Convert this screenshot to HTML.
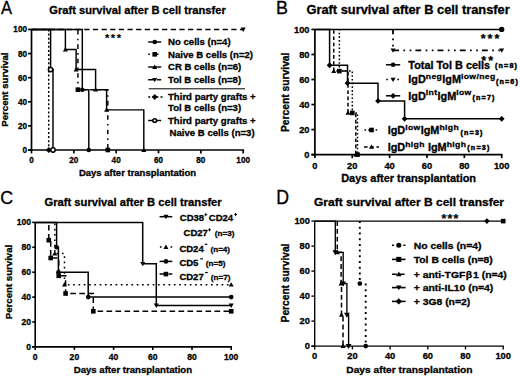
<!DOCTYPE html><html><head><meta charset="utf-8"><style>html,body{margin:0;padding:0;background:#fff;}svg{display:block;}text{font-family:"Liberation Sans", sans-serif;fill:#000;stroke:#000;stroke-width:0.3px;}</style></head><body>
<svg width="520" height="376" viewBox="0 0 520 376">
<rect width="520" height="376" fill="#fff"/>
<text transform="translate(0.90 13.60) scale(0.92 1)" font-size="18.0" font-weight="normal">A</text>
<text x="137.50" y="14.30" font-size="11.15" font-weight="bold" text-anchor="middle" >Graft survival after B cell transfer</text>
<text transform="translate(27.00 153.00) scale(0.93 1)" font-size="8.817" font-weight="bold" text-anchor="end" >0</text>
<text transform="translate(31.50 162.60) scale(0.93 1)" font-size="8.817" font-weight="bold" text-anchor="middle" >0</text>
<text transform="translate(27.00 128.89) scale(0.93 1)" font-size="8.817" font-weight="bold" text-anchor="end" >20</text>
<text transform="translate(73.84 162.60) scale(0.93 1)" font-size="8.817" font-weight="bold" text-anchor="middle" >20</text>
<text transform="translate(27.00 104.78) scale(0.93 1)" font-size="8.817" font-weight="bold" text-anchor="end" >40</text>
<text transform="translate(116.18 162.60) scale(0.93 1)" font-size="8.817" font-weight="bold" text-anchor="middle" >40</text>
<text transform="translate(27.00 80.67) scale(0.93 1)" font-size="8.817" font-weight="bold" text-anchor="end" >60</text>
<text transform="translate(158.52 162.60) scale(0.93 1)" font-size="8.817" font-weight="bold" text-anchor="middle" >60</text>
<text transform="translate(27.00 56.56) scale(0.93 1)" font-size="8.817" font-weight="bold" text-anchor="end" >80</text>
<text transform="translate(200.86 162.60) scale(0.93 1)" font-size="8.817" font-weight="bold" text-anchor="middle" >80</text>
<text transform="translate(27.00 32.45) scale(0.93 1)" font-size="8.817" font-weight="bold" text-anchor="end" >100</text>
<text transform="translate(243.20 162.60) scale(0.93 1)" font-size="8.817" font-weight="bold" text-anchor="middle" >100</text>
<text x="137.50" y="175.80" font-size="9.5" font-weight="bold" text-anchor="middle" >Days after transplantation</text>
<text transform="translate(8.40 89.60) rotate(-90) scale(1 1.0)" font-size="9.6" font-weight="bold" text-anchor="middle">Percent survival</text>
<line x1="31.50" y1="29.15" x2="31.50" y2="150.00" stroke="#000" stroke-width="1.7"/>
<line x1="28.10" y1="150.00" x2="244.05" y2="150.00" stroke="#000" stroke-width="1.7"/>
<line x1="28.10" y1="150.00" x2="31.50" y2="150.00" stroke="#000" stroke-width="1.7"/>
<line x1="31.50" y1="150.00" x2="31.50" y2="153.40" stroke="#000" stroke-width="1.7"/>
<line x1="28.10" y1="125.89" x2="31.50" y2="125.89" stroke="#000" stroke-width="1.7"/>
<line x1="73.84" y1="150.00" x2="73.84" y2="153.40" stroke="#000" stroke-width="1.7"/>
<line x1="28.10" y1="101.78" x2="31.50" y2="101.78" stroke="#000" stroke-width="1.7"/>
<line x1="116.18" y1="150.00" x2="116.18" y2="153.40" stroke="#000" stroke-width="1.7"/>
<line x1="28.10" y1="77.67" x2="31.50" y2="77.67" stroke="#000" stroke-width="1.7"/>
<line x1="158.52" y1="150.00" x2="158.52" y2="153.40" stroke="#000" stroke-width="1.7"/>
<line x1="28.10" y1="53.56" x2="31.50" y2="53.56" stroke="#000" stroke-width="1.7"/>
<line x1="200.86" y1="150.00" x2="200.86" y2="153.40" stroke="#000" stroke-width="1.7"/>
<line x1="28.10" y1="29.45" x2="31.50" y2="29.45" stroke="#000" stroke-width="1.7"/>
<line x1="243.20" y1="150.00" x2="243.20" y2="153.40" stroke="#000" stroke-width="1.7"/>
<line x1="31.50" y1="29.45" x2="243.20" y2="29.45" stroke="#000" stroke-width="1.45" stroke-dasharray="5.2 3.45" stroke-dashoffset="-0.85"/>
<path d="M48.70 29.45 V150.00" fill="none" stroke="#000" stroke-width="1.45" stroke-dasharray="2 2.1" stroke-dashoffset="0"/>
<path d="M77.90 29.45 V89.72 H107.80 V150.00" fill="none" stroke="#000" stroke-width="1.45" stroke-dasharray="4.6 4.1 1.6 4.1" stroke-dashoffset="-0.5"/>
<path d="M31.50 29.45 H50.60 V69.59 H53.00 V150.00" fill="none" stroke="#000" stroke-width="1.45"/>
<path d="M31.50 29.45 H82.30 V89.72 H88.80 V150.00" fill="none" stroke="#000" stroke-width="1.45"/>
<path d="M31.50 29.45 H65.40 V49.58 H76.10 V69.59 H95.60 V89.72 H106.60 V109.86 H143.80 V150.00" fill="none" stroke="#000" stroke-width="1.45"/>
<path d="M65.40 47.08 L67.90 51.46 L62.90 51.46Z" fill="#000"/>
<path d="M76.10 67.09 L78.60 71.47 L73.60 71.47Z" fill="#000"/>
<path d="M95.60 87.22 L98.10 91.60 L93.10 91.60Z" fill="#000"/>
<path d="M106.60 107.36 L109.10 111.73 L104.10 111.73Z" fill="#000"/>
<path d="M143.80 147.50 L146.30 151.88 L141.30 151.88Z" fill="#000"/>
<rect x="75.60" y="87.42" width="4.60" height="4.60" fill="#000"/>
<rect x="105.50" y="147.70" width="4.60" height="4.60" fill="#000"/>
<circle cx="82.30" cy="89.72" r="2.30" fill="#000"/>
<circle cx="88.80" cy="150.00" r="2.30" fill="#000"/>
<path d="M48.70 147.10 L51.60 150.00 L48.70 152.90 L45.80 150.00Z" fill="#000"/>
<circle cx="50.60" cy="69.59" r="2.20" fill="#fff" stroke="#000" stroke-width="1.5"/>
<circle cx="53.00" cy="150.00" r="2.20" fill="#fff" stroke="#000" stroke-width="1.5"/>
<path d="M243.20 31.95 L245.70 27.58 L240.70 27.58Z" fill="#000"/>
<text x="113.75" y="41.80" font-size="11.2" font-weight="bold" text-anchor="middle" letter-spacing="1.5" style="stroke-width:0.1px">***</text>
<line x1="148.20" y1="42.00" x2="161.20" y2="42.00" stroke="#000" stroke-width="1.45"/>
<circle cx="154.70" cy="42.00" r="2.30" fill="#000"/>
<text x="168.00" y="45.40" font-size="9.6" font-weight="bold" text-anchor="start" >No cells (n=4)</text>
<line x1="148.20" y1="54.30" x2="161.20" y2="54.30" stroke="#000" stroke-width="1.45" stroke-dasharray="4.6 4.1 1.6 4.1" stroke-dashoffset="8.7"/>
<rect x="152.40" y="52.00" width="4.60" height="4.60" fill="#000"/>
<text x="168.00" y="57.70" font-size="9.6" font-weight="bold" text-anchor="start" >Naive B cells (n=2)</text>
<line x1="148.20" y1="67.00" x2="161.20" y2="67.00" stroke="#000" stroke-width="1.45"/>
<path d="M154.70 64.50 L157.20 68.88 L152.20 68.88Z" fill="#000"/>
<text x="168.00" y="70.40" font-size="9.6" font-weight="bold" text-anchor="start" >CR B cells (n=6)</text>
<line x1="148.20" y1="79.80" x2="161.20" y2="79.80" stroke="#000" stroke-width="1.45" stroke-dasharray="5.2 3.45" stroke-dashoffset="0"/>
<path d="M154.70 82.30 L157.20 77.92 L152.20 77.92Z" fill="#000"/>
<text x="168.00" y="83.20" font-size="9.6" font-weight="bold" text-anchor="start" >Tol B cells (n=8)</text>
<line x1="148.80" y1="88.80" x2="245.00" y2="88.80" stroke="#000" stroke-width="1.0"/>
<line x1="148.20" y1="97.00" x2="162.50" y2="97.00" stroke="#000" stroke-width="1.45" stroke-dasharray="2 2.1" stroke-dashoffset="0"/>
<path d="M154.70 94.10 L157.60 97.00 L154.70 99.90 L151.80 97.00Z" fill="#000"/>
<text x="168.00" y="100.40" font-size="9.6" font-weight="bold" text-anchor="start" >Third party grafts +</text>
<text x="168.00" y="111.00" font-size="9.6" font-weight="bold" text-anchor="start" >Tol B cells (n=3)</text>
<line x1="148.20" y1="120.50" x2="161.20" y2="120.50" stroke="#000" stroke-width="1.45"/>
<circle cx="154.70" cy="120.50" r="1.87" fill="#fff" stroke="#000" stroke-width="1.5"/>
<text x="168.00" y="123.90" font-size="9.6" font-weight="bold" text-anchor="start" >Third party grafts +</text>
<text x="169.60" y="136.00" font-size="9.6" font-weight="bold" text-anchor="start" >Naive B cells (n=3)</text>
<text transform="translate(275.90 14.10) scale(0.97 1)" font-size="18.5" font-weight="normal">B</text>
<text transform="translate(408.10 13.90) scale(1.07 1)" font-size="12.009" font-weight="bold" text-anchor="middle" >Graft survival after B cell transfer</text>
<text transform="translate(408.60 182.00) scale(1.07 1)" font-size="10.234" font-weight="bold" text-anchor="middle" >Days after transplantation</text>
<text x="309.50" y="157.70" font-size="9.3" font-weight="bold" text-anchor="end" >0</text>
<text x="314.90" y="168.60" font-size="9.3" font-weight="bold" text-anchor="middle" >0</text>
<text x="309.50" y="132.67" font-size="9.3" font-weight="bold" text-anchor="end" >20</text>
<text x="352.26" y="168.60" font-size="9.3" font-weight="bold" text-anchor="middle" >20</text>
<text x="309.50" y="107.64" font-size="9.3" font-weight="bold" text-anchor="end" >40</text>
<text x="389.62" y="168.60" font-size="9.3" font-weight="bold" text-anchor="middle" >40</text>
<text x="309.50" y="82.61" font-size="9.3" font-weight="bold" text-anchor="end" >60</text>
<text x="426.98" y="168.60" font-size="9.3" font-weight="bold" text-anchor="middle" >60</text>
<text x="309.50" y="57.58" font-size="9.3" font-weight="bold" text-anchor="end" >80</text>
<text x="464.34" y="168.60" font-size="9.3" font-weight="bold" text-anchor="middle" >80</text>
<text x="309.50" y="32.55" font-size="9.3" font-weight="bold" text-anchor="end" >100</text>
<text x="501.70" y="168.60" font-size="9.3" font-weight="bold" text-anchor="middle" >100</text>
<text transform="translate(288.80 92.30) rotate(-90) scale(1 1.1)" font-size="10.3" font-weight="bold" text-anchor="middle">Percent survival</text>
<line x1="314.90" y1="29.15" x2="314.90" y2="154.60" stroke="#000" stroke-width="1.7"/>
<line x1="311.40" y1="154.60" x2="502.55" y2="154.60" stroke="#000" stroke-width="1.7"/>
<line x1="311.40" y1="154.60" x2="314.90" y2="154.60" stroke="#000" stroke-width="1.7"/>
<line x1="314.90" y1="154.60" x2="314.90" y2="158.10" stroke="#000" stroke-width="1.7"/>
<line x1="311.40" y1="129.57" x2="314.90" y2="129.57" stroke="#000" stroke-width="1.7"/>
<line x1="352.26" y1="154.60" x2="352.26" y2="158.10" stroke="#000" stroke-width="1.7"/>
<line x1="311.40" y1="104.54" x2="314.90" y2="104.54" stroke="#000" stroke-width="1.7"/>
<line x1="389.62" y1="154.60" x2="389.62" y2="158.10" stroke="#000" stroke-width="1.7"/>
<line x1="311.40" y1="79.51" x2="314.90" y2="79.51" stroke="#000" stroke-width="1.7"/>
<line x1="426.98" y1="154.60" x2="426.98" y2="158.10" stroke="#000" stroke-width="1.7"/>
<line x1="311.40" y1="54.48" x2="314.90" y2="54.48" stroke="#000" stroke-width="1.7"/>
<line x1="464.34" y1="154.60" x2="464.34" y2="158.10" stroke="#000" stroke-width="1.7"/>
<line x1="311.40" y1="29.45" x2="314.90" y2="29.45" stroke="#000" stroke-width="1.7"/>
<line x1="501.70" y1="154.60" x2="501.70" y2="158.10" stroke="#000" stroke-width="1.7"/>
<path d="M393.00 29.45 V50.35 H501.70" fill="none" stroke="#000" stroke-width="1.8" stroke-dasharray="5.8 4.4 1.7 4.5 1.7 4.1" stroke-dashoffset="1.1"/>
<path d="M333.75 29.45 V71.12 H348.00 V112.93 H355.80 V154.60" fill="none" stroke="#000" stroke-width="1.5" stroke-dasharray="3.6 2.6" stroke-dashoffset="-0.8"/>
<path d="M339.40 29.45 V71.12 H352.30 V112.93 H357.50 V154.60" fill="none" stroke="#000" stroke-width="1.5" stroke-dasharray="1.6 2.1" stroke-dashoffset="-3.2"/>
<path d="M314.90 29.45 H329.60 V65.24 H347.50 V83.14 H378.00 V100.91 H404.60 V118.81 H501.70" fill="none" stroke="#000" stroke-width="1.5"/>
<line x1="314.90" y1="29.45" x2="501.70" y2="29.45" stroke="#000" stroke-width="1.5"/>
<path d="M333.75 68.62 L336.25 73.00 L331.25 73.00Z" fill="#000"/>
<path d="M348.00 110.43 L350.50 114.80 L345.50 114.80Z" fill="#000"/>
<path d="M355.80 152.10 L358.30 156.47 L353.30 156.47Z" fill="#000"/>
<rect x="337.10" y="68.82" width="4.60" height="4.60" fill="#000"/>
<rect x="350.00" y="110.63" width="4.60" height="4.60" fill="#000"/>
<rect x="355.20" y="152.30" width="4.60" height="4.60" fill="#000"/>
<path d="M329.60 62.34 L332.50 65.24 L329.60 68.14 L326.70 65.24Z" fill="#000"/>
<path d="M347.50 80.24 L350.40 83.14 L347.50 86.04 L344.60 83.14Z" fill="#000"/>
<path d="M378.00 98.01 L380.90 100.91 L378.00 103.81 L375.10 100.91Z" fill="#000"/>
<path d="M404.60 115.91 L407.50 118.81 L404.60 121.71 L401.70 118.81Z" fill="#000"/>
<path d="M501.70 115.91 L504.60 118.81 L501.70 121.71 L498.80 118.81Z" fill="#000"/>
<path d="M393.00 52.85 L395.50 48.48 L390.50 48.48Z" fill="#000"/>
<path d="M501.70 52.85 L504.20 48.48 L499.20 48.48Z" fill="#000"/>
<circle cx="501.70" cy="29.45" r="2.64" fill="#000"/>
<text x="491.00" y="43.20" font-size="12.5" font-weight="bold" text-anchor="middle" letter-spacing="2.0" style="stroke-width:0.25px">***</text>
<text x="488.20" y="64.90" font-size="12.5" font-weight="bold" text-anchor="middle" letter-spacing="2.0" style="stroke-width:0.25px">**</text>
<line x1="386.00" y1="64.80" x2="400.20" y2="64.80" stroke="#000" stroke-width="1.5"/>
<circle cx="393.10" cy="64.80" r="2.30" fill="#000"/>
<text transform="translate(408.30 68.90) scale(1.07 1)" font-size="10.187" font-weight="bold" text-anchor="start" >Total Tol B cells</text>
<text x="495.00" y="67.60" font-size="7.1" font-weight="bold" text-anchor="start" letter-spacing="1.2" style="stroke-width:0.5px">(n=8)</text>
<line x1="386.00" y1="79.60" x2="400.20" y2="79.60" stroke="#000" stroke-width="1.5" stroke-dasharray="1.6 4.0" stroke-dashoffset="-0.2"/>
<path d="M393.10 82.10 L395.60 77.72 L390.60 77.72Z" fill="#000"/>
<text transform="translate(408.30 83.20) scale(1.07 1)" font-weight="bold" ><tspan font-size="10.187" dy="0.00">IgD</tspan><tspan font-size="8.037" dy="-4.60" letter-spacing="0.35">neg</tspan><tspan font-size="10.187" dy="4.60">IgM</tspan><tspan font-size="8.037" dy="-4.60" letter-spacing="0.35">low/neg</tspan></text>
<text x="495.90" y="84.00" font-size="7.1" font-weight="bold" text-anchor="start" letter-spacing="1.2" style="stroke-width:0.5px">(n=6)</text>
<line x1="386.00" y1="95.80" x2="400.20" y2="95.80" stroke="#000" stroke-width="1.5"/>
<path d="M393.10 92.90 L396.00 95.80 L393.10 98.70 L390.20 95.80Z" fill="#000"/>
<text transform="translate(408.30 99.60) scale(1.07 1)" font-weight="bold" ><tspan font-size="10.187" dy="0.00">IgD</tspan><tspan font-size="8.037" dy="-4.60" letter-spacing="0.35">int</tspan><tspan font-size="10.187" dy="4.60">IgM</tspan><tspan font-size="8.037" dy="-4.60" letter-spacing="0.35">low</tspan></text>
<text x="472.50" y="100.40" font-size="7.1" font-weight="bold" text-anchor="start" letter-spacing="1.2" style="stroke-width:0.5px">(n=7)</text>
<line x1="364.00" y1="130.00" x2="379.00" y2="130.00" stroke="#000" stroke-width="1.5" stroke-dasharray="1.6 2.1" stroke-dashoffset="-0.5"/>
<rect x="369.20" y="127.70" width="4.60" height="4.60" fill="#000"/>
<text transform="translate(387.70 134.40) scale(1.07 1)" font-weight="bold" ><tspan font-size="10.187" dy="0.00">IgD</tspan><tspan font-size="8.037" dy="-4.60" letter-spacing="0.35">low</tspan><tspan font-size="10.187" dy="4.60">IgM</tspan><tspan font-size="8.037" dy="-4.60" letter-spacing="0.35">high</tspan></text>
<text x="460.50" y="135.00" font-size="7.1" font-weight="bold" text-anchor="start" letter-spacing="1.2" style="stroke-width:0.5px">(n=3)</text>
<line x1="364.00" y1="146.90" x2="379.00" y2="146.90" stroke="#000" stroke-width="1.5" stroke-dasharray="3.6 2.6" stroke-dashoffset="0"/>
<path d="M371.50 144.40 L374.00 148.78 L369.00 148.78Z" fill="#000"/>
<text transform="translate(387.70 151.20) scale(1.07 1)" font-weight="bold" ><tspan font-size="10.187" dy="0.00">IgD</tspan><tspan font-size="8.037" dy="-4.60" letter-spacing="0.35">high</tspan><tspan font-size="10.187" dy="4.60"> IgM</tspan><tspan font-size="8.037" dy="-4.60" letter-spacing="0.35">high</tspan></text>
<text x="467.30" y="150.30" font-size="7.1" font-weight="bold" text-anchor="start" letter-spacing="1.2" style="stroke-width:0.5px">(n=3)</text>
<text transform="translate(0.30 204.30) scale(0.93 1)" font-size="19.2" font-weight="normal">C</text>
<text x="133.10" y="205.60" font-size="11.2" font-weight="bold" text-anchor="middle" >Graft survival after B cell transfer</text>
<text transform="translate(31.00 349.60) scale(0.95 1)" font-size="9.053" font-weight="bold" text-anchor="end" >0</text>
<text transform="translate(35.20 359.70) scale(0.95 1)" font-size="9.053" font-weight="bold" text-anchor="middle" >0</text>
<text transform="translate(31.00 324.70) scale(0.95 1)" font-size="9.053" font-weight="bold" text-anchor="end" >20</text>
<text transform="translate(74.40 359.70) scale(0.95 1)" font-size="9.053" font-weight="bold" text-anchor="middle" >20</text>
<text transform="translate(31.00 299.80) scale(0.95 1)" font-size="9.053" font-weight="bold" text-anchor="end" >40</text>
<text transform="translate(113.60 359.70) scale(0.95 1)" font-size="9.053" font-weight="bold" text-anchor="middle" >40</text>
<text transform="translate(31.00 274.90) scale(0.95 1)" font-size="9.053" font-weight="bold" text-anchor="end" >60</text>
<text transform="translate(152.80 359.70) scale(0.95 1)" font-size="9.053" font-weight="bold" text-anchor="middle" >60</text>
<text transform="translate(31.00 250.00) scale(0.95 1)" font-size="9.053" font-weight="bold" text-anchor="end" >80</text>
<text transform="translate(192.00 359.70) scale(0.95 1)" font-size="9.053" font-weight="bold" text-anchor="middle" >80</text>
<text transform="translate(31.00 225.10) scale(0.95 1)" font-size="9.053" font-weight="bold" text-anchor="end" >100</text>
<text transform="translate(231.20 359.70) scale(0.95 1)" font-size="9.053" font-weight="bold" text-anchor="middle" >100</text>
<text x="132.90" y="373.20" font-size="9.6" font-weight="bold" text-anchor="middle" >Days after transplantation</text>
<text transform="translate(11.60 282.00) rotate(-90) scale(1 1.0)" font-size="9.65" font-weight="bold" text-anchor="middle">Percent survival</text>
<line x1="35.20" y1="222.10" x2="35.20" y2="346.90" stroke="#000" stroke-width="1.6"/>
<line x1="32.20" y1="346.90" x2="232.00" y2="346.90" stroke="#000" stroke-width="1.6"/>
<line x1="32.20" y1="346.90" x2="35.20" y2="346.90" stroke="#000" stroke-width="1.6"/>
<line x1="35.20" y1="346.90" x2="35.20" y2="349.90" stroke="#000" stroke-width="1.6"/>
<line x1="32.20" y1="322.00" x2="35.20" y2="322.00" stroke="#000" stroke-width="1.6"/>
<line x1="74.40" y1="346.90" x2="74.40" y2="349.90" stroke="#000" stroke-width="1.6"/>
<line x1="32.20" y1="297.10" x2="35.20" y2="297.10" stroke="#000" stroke-width="1.6"/>
<line x1="113.60" y1="346.90" x2="113.60" y2="349.90" stroke="#000" stroke-width="1.6"/>
<line x1="32.20" y1="272.20" x2="35.20" y2="272.20" stroke="#000" stroke-width="1.6"/>
<line x1="152.80" y1="346.90" x2="152.80" y2="349.90" stroke="#000" stroke-width="1.6"/>
<line x1="32.20" y1="247.30" x2="35.20" y2="247.30" stroke="#000" stroke-width="1.6"/>
<line x1="192.00" y1="346.90" x2="192.00" y2="349.90" stroke="#000" stroke-width="1.6"/>
<line x1="32.20" y1="222.40" x2="35.20" y2="222.40" stroke="#000" stroke-width="1.6"/>
<line x1="231.20" y1="346.90" x2="231.20" y2="349.90" stroke="#000" stroke-width="1.6"/>
<path d="M54.80 222.40 V253.52 H64.50 V284.65 H231.20" fill="none" stroke="#000" stroke-width="1.5" stroke-dasharray="1.7 3.6" stroke-dashoffset="-1.1"/>
<path d="M48.80 222.40 V240.20 H50.70 V258.01 H58.70 V275.81 H65.60 V293.49 H93.30 V311.29 H231.20" fill="none" stroke="#000" stroke-width="1.5" stroke-dasharray="5.6 3.4" stroke-dashoffset="-2.6"/>
<path d="M35.20 222.40 H142.70 V263.86 H156.30 V305.44 H231.20" fill="none" stroke="#000" stroke-width="1.5"/>
<path d="M35.20 222.40 H56.60 V247.30 H58.40 V272.20 H88.20 V297.10 H231.20" fill="none" stroke="#000" stroke-width="1.5"/>
<path d="M142.70 266.36 L145.20 261.98 L140.20 261.98Z" fill="#000"/>
<path d="M156.30 307.94 L158.80 303.57 L153.80 303.57Z" fill="#000"/>
<path d="M231.20 307.94 L233.70 303.57 L228.70 303.57Z" fill="#000"/>
<path d="M54.80 251.02 L57.30 255.40 L52.30 255.40Z" fill="#000"/>
<path d="M64.50 282.15 L67.00 286.52 L62.00 286.52Z" fill="#000"/>
<path d="M231.20 282.15 L233.70 286.52 L228.70 286.52Z" fill="#000"/>
<rect x="46.50" y="237.90" width="4.60" height="4.60" fill="#000"/>
<rect x="48.40" y="255.71" width="4.60" height="4.60" fill="#000"/>
<rect x="56.40" y="273.51" width="4.60" height="4.60" fill="#000"/>
<rect x="63.30" y="291.19" width="4.60" height="4.60" fill="#000"/>
<rect x="91.00" y="308.99" width="4.60" height="4.60" fill="#000"/>
<rect x="228.90" y="308.99" width="4.60" height="4.60" fill="#000"/>
<circle cx="56.60" cy="247.30" r="2.30" fill="#000"/>
<circle cx="58.40" cy="272.20" r="2.30" fill="#000"/>
<circle cx="88.20" cy="297.10" r="2.30" fill="#000"/>
<circle cx="231.20" cy="297.10" r="2.30" fill="#000"/>
<line x1="159.60" y1="216.70" x2="172.30" y2="216.70" stroke="#000" stroke-width="1.5"/>
<path d="M165.95 219.20 L168.45 214.82 L163.45 214.82Z" fill="#000"/>
<text x="179.80" y="221.40" font-size="9.5" font-weight="bold" text-anchor="start" >CD38</text>
<rect x="204.40" y="214.20" width="2.8" height="1.0" fill="#000"/>
<rect x="205.30" y="213.20" width="1.0" height="3.0" fill="#000"/>
<text x="208.80" y="221.40" font-size="9.5" font-weight="bold" text-anchor="start" >CD24</text>
<rect x="234.20" y="214.00" width="2.8" height="1.0" fill="#000"/>
<rect x="235.10" y="213.00" width="1.0" height="3.0" fill="#000"/>
<text x="183.60" y="236.20" font-size="9.5" font-weight="bold" text-anchor="start" >CD27</text>
<rect x="208.10" y="229.30" width="2.8" height="1.0" fill="#000"/>
<rect x="209.00" y="228.30" width="1.0" height="3.0" fill="#000"/>
<text x="214.80" y="236.40" font-size="8.1" font-weight="bold" text-anchor="start" >(n=3)</text>
<line x1="159.60" y1="247.10" x2="172.30" y2="247.10" stroke="#000" stroke-width="1.5" stroke-dasharray="1.7 3.6" stroke-dashoffset="-0.3"/>
<path d="M165.95 244.60 L168.45 248.97 L163.45 248.97Z" fill="#000"/>
<text x="179.40" y="252.10" font-size="9.5" font-weight="bold" text-anchor="start" >CD24</text>
<rect x="204.70" y="243.70" width="2.6" height="1.2" fill="#000"/>
<text x="210.50" y="252.30" font-size="8.1" font-weight="bold" text-anchor="start" >(n=4)</text>
<line x1="159.60" y1="261.40" x2="172.30" y2="261.40" stroke="#000" stroke-width="1.5"/>
<circle cx="165.95" cy="261.40" r="2.30" fill="#000"/>
<text x="179.40" y="266.20" font-size="9.5" font-weight="bold" text-anchor="start" >CD5</text>
<rect x="200.30" y="258.20" width="2.6" height="1.2" fill="#000"/>
<text x="205.80" y="266.40" font-size="8.1" font-weight="bold" text-anchor="start" >(n=5)</text>
<line x1="159.60" y1="274.10" x2="172.30" y2="274.10" stroke="#000" stroke-width="1.5" stroke-dasharray="5.6 3.4" stroke-dashoffset="0"/>
<rect x="163.65" y="271.80" width="4.60" height="4.60" fill="#000"/>
<text x="179.40" y="280.40" font-size="9.5" font-weight="bold" text-anchor="start" >CD27</text>
<rect x="205.20" y="271.90" width="2.6" height="1.2" fill="#000"/>
<text x="210.80" y="279.80" font-size="8.1" font-weight="bold" text-anchor="start" >(n=7)</text>
<text transform="translate(276.20 204.30) scale(0.91 1)" font-size="19.5" font-weight="normal">D</text>
<text transform="translate(409.00 206.00) scale(1.07 1)" font-size="11.215" font-weight="bold" text-anchor="middle" >Graft survival after B cell transfer</text>
<text transform="translate(409.40 372.60) scale(1.07 1)" font-size="9.579" font-weight="bold" text-anchor="middle" >Days after transplantation</text>
<text x="309.90" y="349.30" font-size="9.3" font-weight="bold" text-anchor="end" >0</text>
<text x="314.70" y="359.40" font-size="9.3" font-weight="bold" text-anchor="middle" >0</text>
<text x="309.90" y="324.30" font-size="9.3" font-weight="bold" text-anchor="end" >20</text>
<text x="352.40" y="359.40" font-size="9.3" font-weight="bold" text-anchor="middle" >20</text>
<text x="309.90" y="299.30" font-size="9.3" font-weight="bold" text-anchor="end" >40</text>
<text x="390.10" y="359.40" font-size="9.3" font-weight="bold" text-anchor="middle" >40</text>
<text x="309.90" y="274.30" font-size="9.3" font-weight="bold" text-anchor="end" >60</text>
<text x="427.80" y="359.40" font-size="9.3" font-weight="bold" text-anchor="middle" >60</text>
<text x="309.90" y="249.30" font-size="9.3" font-weight="bold" text-anchor="end" >80</text>
<text x="465.50" y="359.40" font-size="9.3" font-weight="bold" text-anchor="middle" >80</text>
<text x="309.90" y="224.30" font-size="9.3" font-weight="bold" text-anchor="end" >100</text>
<text x="503.20" y="359.40" font-size="9.3" font-weight="bold" text-anchor="middle" >100</text>
<text transform="translate(288.70 283.00) rotate(-90) scale(1 1.1)" font-size="10.2" font-weight="bold" text-anchor="middle">Percent survival</text>
<line x1="314.70" y1="220.80" x2="314.70" y2="346.10" stroke="#000" stroke-width="1.35"/>
<line x1="311.40" y1="346.10" x2="503.88" y2="346.10" stroke="#000" stroke-width="1.35"/>
<line x1="311.40" y1="346.10" x2="314.70" y2="346.10" stroke="#000" stroke-width="1.35"/>
<line x1="314.70" y1="346.10" x2="314.70" y2="349.40" stroke="#000" stroke-width="1.35"/>
<line x1="311.40" y1="321.10" x2="314.70" y2="321.10" stroke="#000" stroke-width="1.35"/>
<line x1="352.40" y1="346.10" x2="352.40" y2="349.40" stroke="#000" stroke-width="1.35"/>
<line x1="311.40" y1="296.10" x2="314.70" y2="296.10" stroke="#000" stroke-width="1.35"/>
<line x1="390.10" y1="346.10" x2="390.10" y2="349.40" stroke="#000" stroke-width="1.35"/>
<line x1="311.40" y1="271.10" x2="314.70" y2="271.10" stroke="#000" stroke-width="1.35"/>
<line x1="427.80" y1="346.10" x2="427.80" y2="349.40" stroke="#000" stroke-width="1.35"/>
<line x1="311.40" y1="246.10" x2="314.70" y2="246.10" stroke="#000" stroke-width="1.35"/>
<line x1="465.50" y1="346.10" x2="465.50" y2="349.40" stroke="#000" stroke-width="1.35"/>
<line x1="311.40" y1="221.10" x2="314.70" y2="221.10" stroke="#000" stroke-width="1.35"/>
<line x1="503.20" y1="346.10" x2="503.20" y2="349.40" stroke="#000" stroke-width="1.35"/>
<path d="M359.80 221.10 V283.60 H365.70 V346.10" fill="none" stroke="#000" stroke-width="1.9" stroke-dasharray="2.0 3.7" stroke-dashoffset="0"/>
<path d="M337.30 221.10 V252.35 H341.10 V283.60 H341.50 V314.85 H343.00 V346.10" fill="none" stroke="#000" stroke-width="1.5" stroke-dasharray="4.8 3.0" stroke-dashoffset="0"/>
<path d="M314.70 221.10 H335.30 V252.35 H343.20 V283.60 H346.90 V314.85 H348.60 V346.10" fill="none" stroke="#000" stroke-width="1.35"/>
<line x1="314.70" y1="221.10" x2="503.20" y2="221.10" stroke="#000" stroke-width="1.3"/>
<path d="M337.30 249.85 L339.80 254.23 L334.80 254.23Z" fill="#000"/>
<path d="M341.10 281.10 L343.60 285.48 L338.60 285.48Z" fill="#000"/>
<path d="M341.50 312.35 L344.00 316.73 L339.00 316.73Z" fill="#000"/>
<path d="M343.00 343.60 L345.50 347.98 L340.50 347.98Z" fill="#000"/>
<path d="M335.30 255.23 L338.18 250.19 L332.43 250.19Z" fill="#000"/>
<path d="M343.20 286.48 L346.07 281.44 L340.32 281.44Z" fill="#000"/>
<path d="M346.90 317.73 L349.77 312.69 L344.02 312.69Z" fill="#000"/>
<path d="M348.60 348.98 L351.48 343.94 L345.73 343.94Z" fill="#000"/>
<circle cx="359.80" cy="283.60" r="2.30" fill="#000"/>
<circle cx="365.70" cy="346.10" r="2.30" fill="#000"/>
<path d="M486.90 218.20 L489.80 221.10 L486.90 224.00 L484.00 221.10Z" fill="#000"/>
<rect x="500.90" y="218.80" width="4.60" height="4.60" fill="#000"/>
<text x="450.30" y="223.40" font-size="13.5" font-weight="bold" text-anchor="middle" letter-spacing="0.8" style="stroke-width:0.1px">***</text>
<line x1="392.00" y1="245.20" x2="405.60" y2="245.20" stroke="#000" stroke-width="1.6" stroke-dasharray="2.0 3.7" stroke-dashoffset="0"/>
<circle cx="398.80" cy="245.20" r="2.53" fill="#000"/>
<text transform="translate(413.70 248.60) scale(1.07 1)" font-size="9.720" font-weight="bold" text-anchor="start" >No cells (n=4)</text>
<line x1="392.00" y1="259.40" x2="405.60" y2="259.40" stroke="#000" stroke-width="1.6"/>
<rect x="396.27" y="256.87" width="5.06" height="5.06" fill="#000"/>
<text transform="translate(413.70 262.80) scale(1.07 1)" font-size="9.720" font-weight="bold" text-anchor="start" >Tol B cells (n=8)</text>
<line x1="392.00" y1="274.30" x2="405.60" y2="274.30" stroke="#000" stroke-width="1.6" stroke-dasharray="4.8 3.0" stroke-dashoffset="0"/>
<path d="M398.80 271.55 L401.55 276.36 L396.05 276.36Z" fill="#000"/>
<text transform="translate(413.70 277.70) scale(1.07 1)" font-size="9.720" font-weight="bold" text-anchor="start" >+ anti-TGF<tspan dx="0.4">β</tspan><tspan dx="0.9">1 (n=4)</tspan></text>
<line x1="392.00" y1="287.60" x2="405.60" y2="287.60" stroke="#000" stroke-width="1.6"/>
<path d="M398.80 290.35 L401.55 285.54 L396.05 285.54Z" fill="#000"/>
<text transform="translate(413.70 291.00) scale(1.07 1)" font-size="9.720" font-weight="bold" text-anchor="start" >+ anti-IL10 (n=4)</text>
<line x1="392.00" y1="301.40" x2="405.60" y2="301.40" stroke="#000" stroke-width="1.6"/>
<path d="M398.80 298.21 L401.99 301.40 L398.80 304.59 L395.61 301.40Z" fill="#000"/>
<text transform="translate(413.70 304.80) scale(1.07 1)" font-size="9.720" font-weight="bold" text-anchor="start" >+ 3G8 (n=2)</text>
</svg></body></html>
